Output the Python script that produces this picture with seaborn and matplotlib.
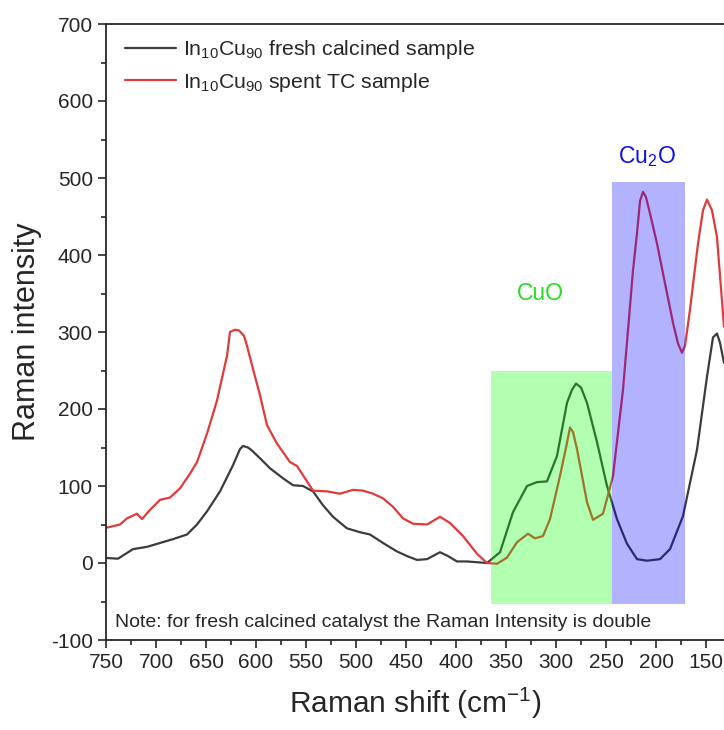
import numpy as np
import pandas as pd
import matplotlib
matplotlib.use("Agg")
import matplotlib.pyplot as plt
import seaborn as sns
from matplotlib.patches import Rectangle
from matplotlib.ticker import MultipleLocator

# ---- data ----
fresh_shift = [749, 738, 723, 709, 696, 683, 669, 659, 649, 636, 623, 616, 613, 608, 604,
               596, 586, 573, 563, 553, 543, 533, 523, 509, 496, 486, 473, 459, 449, 439,
               429, 416, 408, 399, 389, 369, 356, 343, 329, 319, 309, 299, 289, 284, 280,
               275, 269, 259, 249, 239, 229, 219, 209, 196, 186, 173, 159, 149, 143, 139,
               136, 132]
fresh_int = [6.5, 5.6, 18, 21, 26, 31, 37, 50, 67, 93, 127, 148, 152, 150, 146,
             136, 123, 110, 101, 100, 93, 75, 60, 45, 40, 37, 26, 15, 9, 4,
             5, 14, 9, 2, 2, 0, 14, 66, 100, 105, 106, 139, 208, 225, 233,
             228, 208, 157, 100, 57, 25, 5, 3, 5, 18, 61, 147, 242, 293, 298,
             286, 260]

spent_shift = [749, 736, 729, 719, 714, 706, 696, 686, 676, 666, 659, 649, 639, 629, 626,
               621, 617, 612, 609, 603, 596, 589, 579, 573, 566, 559, 549, 543, 529, 516,
               503, 493, 483, 473, 463, 453, 443, 429, 416, 406, 393, 379, 369, 359, 349,
               339, 328, 321, 313, 306, 296, 289, 286, 283, 279, 269, 263, 253, 243, 233,
               223, 219, 216, 213, 210, 206, 199, 193, 183, 178, 174, 171, 166, 158, 153,
               149, 144, 139, 132]
spent_int = [46, 50, 58, 64, 57, 69, 82, 85, 97, 116, 131, 168, 211, 269, 300,
             303, 302, 295, 282, 252, 218, 179, 155, 144, 131, 126, 106, 94, 93, 90,
             95, 94, 90, 84, 73, 58, 51, 50, 60, 52, 35, 12, 0, -1, 7,
             27, 38, 32, 35, 57, 113, 156, 176, 170, 148, 79, 56, 64, 113, 225,
             380, 428, 470, 482, 475, 454, 415, 376, 312, 285, 273, 282, 329, 415, 458,
             472, 458, 423, 307]

series_labels = [r"In$_{10}$Cu$_{90}$ fresh calcined sample",
                 r"In$_{10}$Cu$_{90}$ spent TC sample"]
x_ticks = [750, 700, 650, 600, 550, 500, 450, 400, 350, 300, 250, 200, 150]
y_ticks = [-100, 0, 100, 200, 300, 400, 500, 600, 700]

# ---- style ----
sns.set_style("ticks")
plt.rcParams["font.family"] = ["Liberation Sans", "DejaVu Sans"]
plt.rcParams["mathtext.fontset"] = "custom"
plt.rcParams["mathtext.rm"] = "Liberation Sans"
plt.rcParams["mathtext.it"] = "Liberation Sans:italic"
plt.rcParams["mathtext.bf"] = "Liberation Sans:bold"
plt.rcParams["axes.unicode_minus"] = False

fig = plt.figure(figsize=(7.24, 7.30), dpi=100)
ax = fig.add_axes([106 / 724, 90 / 730, 618 / 724, 616 / 730])

df_fresh = pd.DataFrame({"shift": fresh_shift, "intensity": fresh_int})
df_spent = pd.DataFrame({"shift": spent_shift, "intensity": spent_int})

sns.lineplot(data=df_fresh, x="shift", y="intensity", sort=False, color="#3c3c3c",
             lw=1.6, label=series_labels[0], ax=ax)
sns.lineplot(data=df_spent, x="shift", y="intensity", sort=False, color="#e03a3a",
             lw=1.6, label=series_labels[1], ax=ax)

# highlighted bands (drawn over the lines, semi-transparent)
ax.add_patch(Rectangle((365, -53), 244 - 365, 250 + 53, facecolor=(0, 1, 0),
                       alpha=0.3, edgecolor="none", zorder=3))
ax.add_patch(Rectangle((244, -53), 171 - 244, 495 + 53, facecolor=(0, 0, 1),
                       alpha=0.3, edgecolor="none", zorder=3))
ax.text(316, 350, "CuO", color="#22dd22", fontsize=16.5, ha="center", va="center")
ax.text(209, 528, r"Cu$_2$O", color="#1010dd", fontsize=16.5, ha="center", va="center")
ax.text(741, -77, "Note: for fresh calcined catalyst the Raman Intensity is double",
        fontsize=14, ha="left", va="center")

ax.set_xlim(750, 132)
ax.set_ylim(-100, 700)
ax.set_xticks(x_ticks)
ax.set_yticks(y_ticks)
ax.xaxis.set_minor_locator(MultipleLocator(25))
ax.yaxis.set_minor_locator(MultipleLocator(50))
ax.tick_params(axis="both", which="major", labelsize=15, length=6, width=1.2, direction="out")
ax.tick_params(axis="both", which="minor", length=3.5, width=1.2, direction="out")
for s in ["left", "bottom", "top"]:
    ax.spines[s].set_linewidth(1.3)
ax.spines["right"].set_visible(False)

ax.set_xlabel(r"Raman shift (cm$^{-1}$)", fontsize=21.5, labelpad=10)
ax.set_ylabel("Raman intensity", fontsize=22, labelpad=6)

leg = ax.legend(loc="upper left", bbox_to_anchor=(19 / 618, 1 - 14 / 616),
                frameon=False, fontsize=15.3, handlelength=2.4, borderpad=0,
                handletextpad=0.33, borderaxespad=0, labelspacing=0.45)

fig.savefig("out.png", dpi=100)
